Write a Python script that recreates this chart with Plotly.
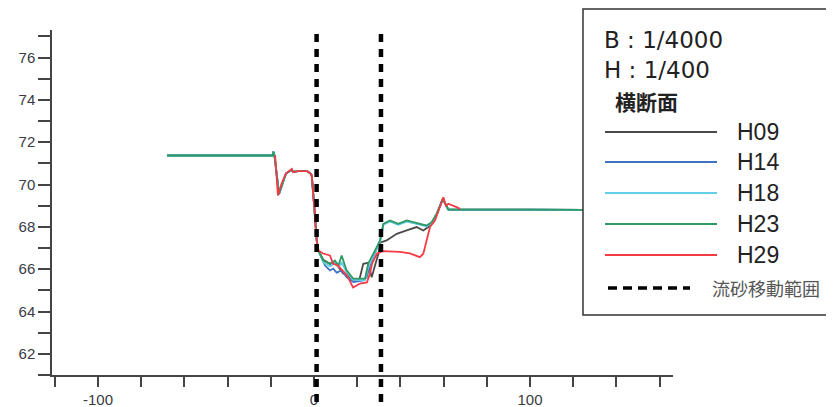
import plotly.graph_objects as go

# ---------------- data ----------------
series_names = ["H09", "H14", "H18", "H23", "H29"]
series_colors = ["#4a4a4a", "#3f74c4", "#63cdea", "#2f9a62", "#f53a44"]

# shared upstream profile (left bank)
x_upstream = [-68.0, -19.1, -18.8, -18.3, -16.2, -15.5, -14.4, -13.0, -10.3, -9.7, -7.4, -3.2, -1.85, -1.06, 0.14, 1.25, 2.0]
y_upstream = [71.37, 71.37, 71.55, 71.37, 69.55, 69.75, 70.10, 70.52, 70.70, 70.60, 70.63, 70.63, 70.54, 70.43, 68.93, 67.36, 66.88]

# shared downstream profile (right bank)
x_downstream = [62.2, 100.0, 150.0]
y_downstream = [68.82, 68.81, 68.79]

# channel section per survey year
x_h09 = [4.3, 7.4, 9.7, 11.3, 13.5, 15.1, 18.2, 21.0, 22.8, 25.1, 26.7, 29.8, 30.6, 33.6, 38.3, 42.9, 47.5, 50.6, 52.9, 54.5, 56.8, 59.6]
y_h09 = [66.45, 66.25, 66.35, 66.10, 65.80, 65.75, 65.50, 65.50, 66.25, 66.30, 65.62, 66.73, 67.25, 67.36, 67.67, 67.83, 67.99, 67.83, 67.99, 68.20, 68.60, 69.30]

x_h14 = [3.6, 5.1, 7.4, 8.9, 10.5, 12.8, 15.1, 18.2, 22.8, 24.4, 25.9, 28.2, 30.6, 32.1, 35.2, 39.0, 42.9, 49.1, 52.2, 54.5, 56.8, 59.6]
y_h14 = [66.50, 66.17, 65.94, 66.03, 65.84, 65.94, 65.62, 65.39, 65.47, 65.62, 66.17, 66.79, 67.36, 68.12, 68.28, 68.12, 68.28, 68.12, 68.04, 68.20, 68.60, 69.30]

x_h18 = [4.3, 7.4, 9.7, 11.3, 12.8, 15.1, 18.2, 23.6, 25.1, 28.2, 30.6, 32.1, 35.2, 39.0, 42.9, 49.1, 52.2, 54.5, 56.8, 59.6]
y_h18 = [66.32, 66.13, 66.30, 66.10, 66.32, 65.84, 65.50, 65.47, 66.10, 66.80, 67.30, 68.10, 68.25, 68.10, 68.25, 68.10, 68.02, 68.20, 68.60, 69.30]

x_h23 = [4.3, 7.4, 9.7, 11.3, 12.8, 15.1, 18.2, 23.6, 25.1, 28.2, 30.6, 32.1, 35.2, 39.0, 42.9, 49.1, 52.2, 54.5, 56.8, 59.6]
y_h23 = [66.41, 66.25, 66.41, 66.17, 66.65, 65.94, 65.55, 65.55, 66.27, 66.88, 67.36, 68.14, 68.30, 68.14, 68.30, 68.14, 68.06, 68.22, 68.62, 69.33]

x_h29 = [-18.0, -17.6, -16.7, -15.0, -13.0, -10.3, -9.7, -7.4, -3.2, -1.85, -1.06, 0.14, 1.25, 2.0,
         4.2, 7.4, 8.8, 11.1, 15.3, 18.1, 21.3, 24.5, 25.9, 26.9, 29.2, 31.9, 39.8, 44.4, 49.0, 50.6,
         53.7, 56.0, 59.1, 59.9, 61.1, 62.2, 66.0, 67.6]
y_h29 = [71.37, 70.80, 69.48, 70.05, 70.52, 70.74, 70.58, 70.63, 70.63, 70.54, 70.43, 68.93, 67.36, 66.88,
         66.74, 66.65, 66.27, 66.17, 65.70, 65.13, 65.32, 65.37, 65.80, 66.27, 66.74, 66.85, 66.82, 66.75, 66.57, 66.73,
         67.99, 68.30, 69.25, 69.40, 69.00, 69.09, 68.93, 68.85]

sediment_range = [1.2, 31.0]   # 流砂移動範囲 boundaries

x_tick_vals = [-100, 0, 100]
x_tick_text = ["-100", "0", "100"]
y_tick_vals = [62, 64, 66, 68, 70, 72, 74, 76]

# ---------------- figure ----------------
fig = go.Figure()

full_series = [
    (x_upstream + x_h09 + x_downstream, y_upstream + y_h09 + y_downstream),
    (x_upstream + x_h14 + x_downstream, y_upstream + y_h14 + y_downstream),
    (x_upstream + x_h18 + x_downstream, y_upstream + y_h18 + y_downstream),
    (x_upstream + x_h23 + x_downstream, y_upstream + y_h23 + y_downstream),
    (x_h29, y_h29),
]

for name, color, (xs, ys) in zip(series_names, series_colors, full_series):
    fig.add_trace(go.Scatter(x=xs, y=ys, mode="lines", name=name,
                             line=dict(color=color, width=1.8), showlegend=False))

# the page body adds an 8px offset; figure sized to fit the 834x407 window
OFF = 8
W, H = 834 - OFF, 407 - OFF
ML, MR, MT, MB = 44, 161, 22, 32
PL = OFF + ML                 # plot left in screen px
PB = OFF + H - MB             # plot bottom in screen px
PW, PH = W - ML - MR, H - MT - MB


def px2x(px):
    return (px - PL) / PW


def py2y(py):
    return (PB - py) / PH


# sediment movement range lines
for xv in sediment_range:
    fig.add_shape(type="line", xref="x", yref="paper", x0=xv, x1=xv,
                  y0=py2y(402), y1=py2y(33),
                  line=dict(color="black", width=4.5, dash="8px,7px"), layer="above")

# legend box
fig.add_shape(type="rect", xref="paper", yref="paper",
              x0=px2x(583), x1=px2x(845), y0=py2y(315), y1=py2y(9),
              line=dict(color="#333333", width=1.5), fillcolor="white", layer="above")

fig.add_annotation(xref="paper", yref="paper", x=px2x(602), y=py2y(40), text="B : 1/4000",
                   showarrow=False, xanchor="left", yanchor="middle",
                   font=dict(family="DejaVu Sans", size=23, color="#222222"))
fig.add_annotation(xref="paper", yref="paper", x=px2x(602), y=py2y(70), text="H : 1/400",
                   showarrow=False, xanchor="left", yanchor="middle",
                   font=dict(family="DejaVu Sans", size=23, color="#222222"))
fig.add_annotation(xref="paper", yref="paper", x=px2x(613), y=py2y(101), text="<b>横断面</b>",
                   showarrow=False, xanchor="left", yanchor="middle",
                   font=dict(family="Noto Sans CJK JP", size=21, color="#222222"))

legend_rows = [132, 162, 193, 224, 255]
for name, color, py in zip(series_names, series_colors, legend_rows):
    fig.add_shape(type="line", xref="paper", yref="paper",
                  x0=px2x(605), x1=px2x(717), y0=py2y(py), y1=py2y(py),
                  line=dict(color=color, width=2), layer="above")
    fig.add_annotation(xref="paper", yref="paper", x=px2x(735), y=py2y(py), text=name,
                       showarrow=False, xanchor="left", yanchor="middle",
                       font=dict(family="Liberation Sans", size=23, color="#222222"))

fig.add_shape(type="line", xref="paper", yref="paper",
              x0=px2x(608), x1=px2x(690), y0=py2y(288), y1=py2y(288),
              line=dict(color="black", width=3.5, dash="9px,6px"), layer="above")
fig.add_annotation(xref="paper", yref="paper", x=px2x(710), y=py2y(288), text="流砂移動範囲",
                   showarrow=False, xanchor="left", yanchor="middle",
                   font=dict(family="Noto Sans CJK JP", size=18, color="#555555"))

axis_color = "#444444"
tick_font = dict(family="Liberation Sans", size=15, color="#3a3a44")
fig.update_layout(
    width=W, height=H,
    margin=dict(l=ML, r=MR, t=MT, b=MB, pad=0, autoexpand=False),
    paper_bgcolor="white", plot_bgcolor="white",
    showlegend=False,
    xaxis=dict(range=[-121.3, 166.2], tickmode="array", tickvals=x_tick_vals, ticktext=x_tick_text,
               automargin=False,
               showline=True, linecolor=axis_color, linewidth=1.5,
               ticks="outside", ticklen=10, tickwidth=1.5, tickcolor=axis_color,
               minor=dict(dtick=20, tick0=0, ticks="outside", ticklen=10, tickwidth=1.5,
                          tickcolor=axis_color, showgrid=False),
               showgrid=False, zeroline=False, tickfont=tick_font),
    yaxis=dict(range=[61, 77.3], tickmode="array", tickvals=y_tick_vals,
               automargin=False,
               showline=True, linecolor=axis_color, linewidth=1.5,
               ticks="outside", ticklen=12, tickwidth=1.5, tickcolor=axis_color,
               minor=dict(dtick=1, tick0=0, ticks="outside", ticklen=12, tickwidth=1.5,
                          tickcolor=axis_color, showgrid=False),
               showgrid=False, zeroline=False, tickfont=tick_font),
)

fig.write_html("out.html")
